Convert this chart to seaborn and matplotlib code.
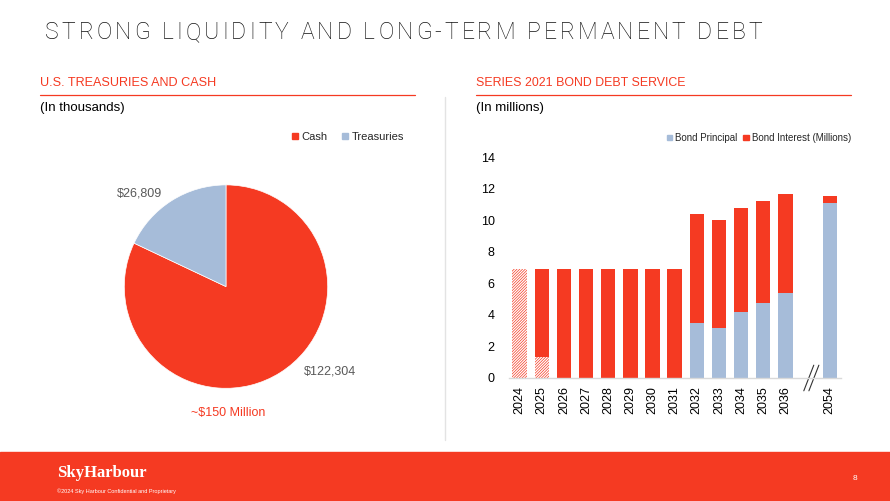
import matplotlib
matplotlib.use("Agg")
import matplotlib.pyplot as plt
from matplotlib.patches import Patch, Rectangle
from matplotlib.lines import Line2D
import matplotlib.transforms as mtransforms
import pandas as pd
import seaborn as sns

RED = "#F53A22"
BLUE = "#A6BCD9"
GRAY_TEXT = "#595959"

# pie data (in thousands)
pie_labels = ["Cash", "Treasuries"]
pie_values = [122304, 26809]
pie_value_text = ["$122,304", "$26,809"]

# bond debt service (in millions)
years = ["2024", "2025", "2026", "2027", "2028", "2029", "2030", "2031",
         "2032", "2033", "2034", "2035", "2036", "2054"]
principal = [0, 0, 0, 0, 0, 0, 0, 0, 3.46, 3.19, 4.15, 4.75, 5.36, 11.06]
interest = [6.9, 6.9, 6.9, 6.9, 6.9, 6.9, 6.9, 6.9, 6.94, 6.79, 6.65, 6.47, 6.29, 0.48]
prefunded = [6.9, 1.33, 0, 0, 0, 0, 0, 0, 0, 0, 0, 0, 0, 0]
y_ticks = [0, 2, 4, 6, 8, 10, 12, 14]

GAP = " "
order = years[:13] + [GAP] + years[13:]


def tracked_text(fig, x, y, s, target_width, **kw):
    """Place a string char by char so that it spans target_width pixels."""
    renderer = fig.canvas.get_renderer()
    bar = fig.text(0, 0, "|", **kw)
    bar_w = bar.get_window_extent(renderer).width
    bar.remove()
    advances = []
    for c in s:
        t = fig.text(0, 0, c + "|", **kw)
        advances.append(t.get_window_extent(renderer).width - bar_w)
        t.remove()
    natural = sum(advances[:-1]) + advances[-1]
    extra = (target_width - natural) / (len(s) - 1)
    W = fig.bbox.width
    px = x * W
    for c, a in zip(s, advances):
        fig.text(px / W, y, c, **kw)
        px += a + extra


sns.set_theme(style="white")
plt.rcParams["font.family"] = ["Liberation Sans", "DejaVu Sans"]
plt.rcParams["hatch.linewidth"] = 0.5

fig = plt.figure(figsize=(8.9, 5.01), dpi=100)
FW, FH = 890, 501


def fx(px):
    return px / FW


def fy(py):
    return 1 - py / FH


# title
tracked_text(fig, fx(45), fy(39), "STRONG LIQUIDITY AND LONG-TERM PERMANENT DEBT", 717,
             fontsize=16.5, color="#111111", family=["Roboto", "DejaVu Sans"], fontweight="light",
             va="baseline")

# section headers
for x0, x1, head, sub, hs in [(40, 415, "U.S. TREASURIES AND CASH", "(In thousands)", 9.1),
                              (476, 851, "SERIES 2021 BOND DEBT SERVICE", "(In millions)", 8.9)]:
    fig.text(fx(x0), fy(83), head, color=RED, fontsize=hs, va="center", ha="left")
    fig.add_artist(Line2D([fx(x0), fx(x1)], [fy(95), fy(95)], color=RED, lw=0.9))
    fig.text(fx(x0), fy(108), sub, color="black", fontsize=9.5, va="center", ha="left")

# divider
fig.add_artist(Line2D([fx(445), fx(445)], [fy(97), fy(440)], color="#E3E3E3", lw=1))

# pie chart
ax_pie = fig.add_axes([fx(124.3), fy(388.3), fx(203.4), 203.4 / FH])
wedges, _ = ax_pie.pie(pie_values, colors=[RED, BLUE], startangle=90, counterclock=False,
                       wedgeprops=dict(linewidth=0.5, edgecolor="white"), radius=1)
ax_pie.set_xlim(-1, 1)
ax_pie.set_ylim(-1, 1)
ax_pie.text(-0.85, 0.92, pie_value_text[1], color=GRAY_TEXT, fontsize=9, ha="center", va="center")
ax_pie.text(1.02, -0.83, pie_value_text[0], color=GRAY_TEXT, fontsize=9, ha="center", va="center")
fig.text(fx(228), fy(413), "~$150 Million", color=RED, fontsize=9, ha="center", va="center")

fig.legend(handles=[Patch(color=RED, label=pie_labels[0]), Patch(color=BLUE, label=pie_labels[1])],
           loc="center right", bbox_to_anchor=(fx(404), fy(137)), ncol=2, frameon=False,
           fontsize=8, handlelength=0.55, handleheight=0.55, handletextpad=0.3,
           columnspacing=1.3, borderpad=0, borderaxespad=0)

# bar chart
df = pd.DataFrame({"year": years, "principal": principal, "interest": interest,
                   "prefunded": prefunded})
df["total"] = df["principal"] + df["interest"]

ax = fig.add_axes([fx(508.5), fy(378), fx(332.3), 221 / FH])
sns.barplot(data=df, x="year", y="total", order=order, color=RED, saturation=1,
            width=0.65, errorbar=None, linewidth=0, ax=ax)
sns.barplot(data=df, x="year", y="principal", order=order, color=BLUE, saturation=1,
            width=0.65, errorbar=None, linewidth=0, ax=ax)
sns.barplot(data=df, x="year", y="prefunded", order=order, color="white", saturation=1,
            width=0.65, errorbar=None, linewidth=0, edgecolor=RED, hatch="////////////", ax=ax)

ax.set_ylim(0, 14)
ax.set_yticks(y_ticks)
ax.set_xlabel("")
ax.set_ylabel("")
for s in ["top", "right", "left"]:
    ax.spines[s].set_visible(False)
ax.spines["bottom"].set_color("#D9D9D9")
ax.spines["bottom"].set_linewidth(1)
ax.tick_params(axis="y", length=0, pad=10, labelsize=9, labelcolor="black")
ax.tick_params(axis="x", length=0, pad=6, labelsize=9, labelcolor="black", rotation=90)

# axis break mark in the gap slot
gap_x = order.index(GAP)
trans = mtransforms.blended_transform_factory(ax.transData, ax.transAxes)
for dx in [0.0, 0.23]:
    ax.plot([gap_x - 0.17 + dx, gap_x + 0.28 + dx], [-0.058, 0.058], color="#333333",
            lw=0.8, transform=trans, clip_on=False, scalex=False, scaley=False)
ax.set_xlim(-0.5, len(order) - 0.5)

fig.legend(handles=[Patch(color=BLUE, label="Bond Principal"),
                    Patch(color=RED, label="Bond Interest (Millions)")],
           loc="center right", bbox_to_anchor=(fx(851), fy(138)), ncol=2, frameon=False,
           fontsize=7, handlelength=0.55, handleheight=0.55, handletextpad=0.3,
           columnspacing=0.6, borderpad=0, borderaxespad=0)

# footer band
fig.add_artist(Rectangle((0, 0), 1, fy(452), transform=fig.transFigure, color=RED, zorder=0))
fig.text(fx(57), fy(473), "SkyHarbour", color="white", fontsize=12, fontweight="bold",
         family=["Liberation Serif", "DejaVu Serif"], ha="left", va="center")
fig.text(fx(57), fy(491), "\u00a92024 Sky Harbour Confidential and Proprietary", color="white",
         fontsize=4, ha="left", va="center")
fig.text(fx(855), fy(479), "8", color="white", fontsize=6, ha="center", va="center")

fig.savefig("out.png", dpi=100)
